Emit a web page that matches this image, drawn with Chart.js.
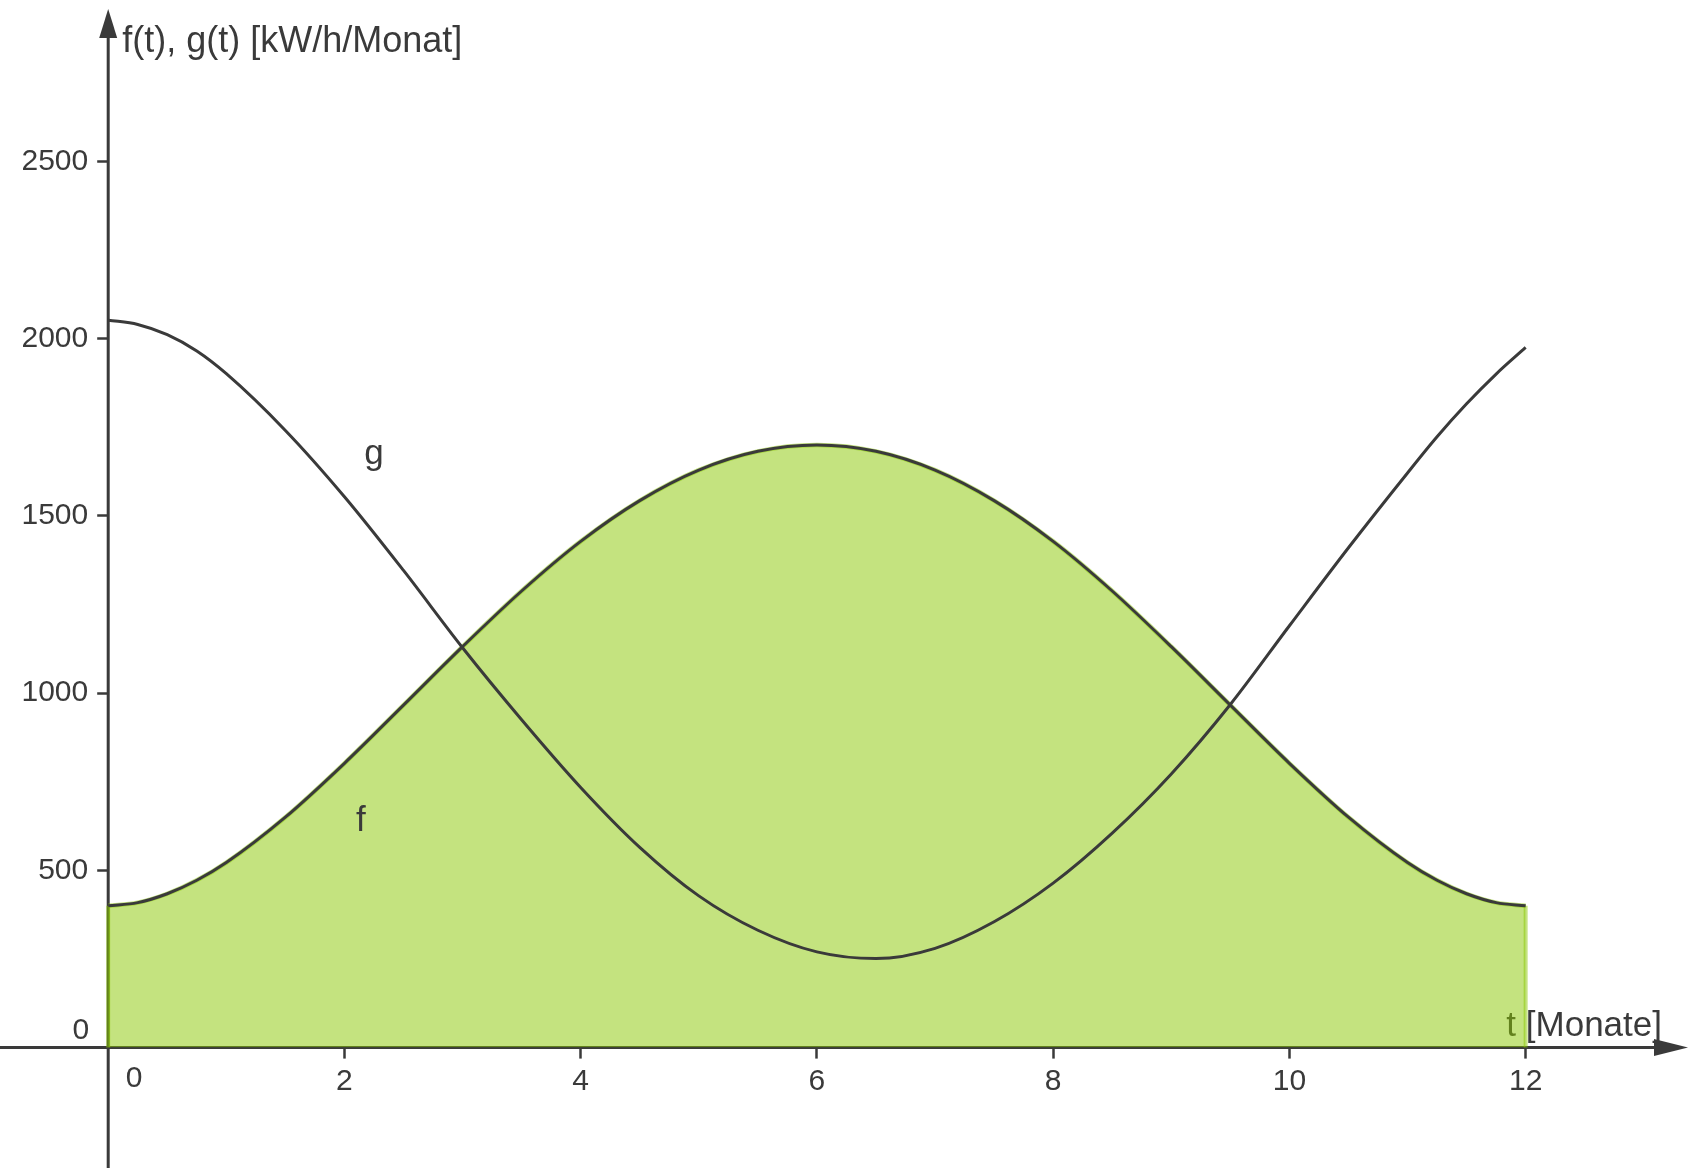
<!DOCTYPE html>
<html>
<head>
<meta charset="utf-8">
<title>f(t), g(t)</title>
<script src="https://cdn.jsdelivr.net/npm/chart.js@4.4.1/dist/chart.umd.min.js"></script>
<style>
    html, body { margin: 0; padding: 0; background: #fff; }
    #wrap { width: 1691px; height: 1168px; position: relative; }
</style>
</head>
<body>
<div id="wrap"><canvas id="chart"></canvas></div>
<script>
// values (half months, a few quarter months near the ends)
const months = [0, 0.25, 0.5, 0.75, 1, 1.5, 2, 2.5, 3, 3.5, 4, 4.5, 5, 5.5, 6, 6.5, 7, 7.5, 8, 8.5, 9, 9.5, 10, 10.5, 11, 11.25, 11.5, 11.75, 12];
const fValues = [400, 409, 434, 472, 522, 650, 802, 966, 1131, 1288, 1428, 1543, 1629, 1682, 1700, 1682, 1629, 1543, 1428, 1288, 1131, 966, 802, 650, 522, 472, 434, 409, 400];
const gValues = [2052, 2040, 2011, 1965, 1901, 1741, 1554, 1346, 1128, 925, 734, 565, 428, 331, 270, 251, 280, 355, 464, 605, 772, 968, 1190, 1410, 1621, 1723, 1816, 1900, 1975];
const xTickValues = [0, 2, 4, 6, 8, 10, 12];
const yTickValues = [0, 500, 1000, 1500, 2000, 2500];
const yTitle = 'f(t), g(t) [kW/h/Monat]';
const xTitle = 't [Monate]';

// where the curve names sit (in chart units)
const curveLabels = [
    { text: 'g', t: 2.25, v: 1645 },
    { text: 'f', t: 2.14, v: 610 },
];

const INK = '#3a3a3a';
const GREEN = 'rgba(137, 199, 0, 0.5)';
const FONT = '"Liberation Sans", Arial, Helvetica, sans-serif';

// origin on the page and pixels per unit, so the axes land where they are in the picture
const ORIGIN = { x: 108.2, y: 1047.6 };
const PX_PER_MONTH = 118.12;
const PX_PER_UNIT = 0.3545;

const toPoints = (ys) => months.map((t, i) => ({ x: t, y: ys[i] }));
const last = months.length - 1;

const axesPlugin = {
    id: 'axesPlugin',
    beforeDatasetsDraw(chart) {
        const { ctx } = chart;
        const x0 = chart.scales.x.getPixelForValue(0);
        const y0 = chart.scales.y.getPixelForValue(0);
        const w = chart.width, h = chart.height;

        ctx.save();
        ctx.strokeStyle = INK;
        ctx.fillStyle = INK;
        ctx.lineWidth = 3;

        // axis lines
        ctx.beginPath();
        ctx.moveTo(x0, 30);
        ctx.lineTo(x0, h);
        ctx.moveTo(0, y0);
        ctx.lineTo(w - 30, y0);
        ctx.stroke();

        // arrow heads
        ctx.beginPath();
        ctx.moveTo(x0, 9);
        ctx.lineTo(x0 - 9, 38);
        ctx.lineTo(x0 + 9, 38);
        ctx.closePath();
        ctx.fill();
        ctx.beginPath();
        ctx.moveTo(w - 3, y0);
        ctx.lineTo(w - 37, y0 - 8.5);
        ctx.lineTo(w - 37, y0 + 8.5);
        ctx.closePath();
        ctx.fill();

        // axis titles (under the translucent fill, like the original)
        ctx.font = `36px ${FONT}`;
        ctx.textBaseline = 'alphabetic';
        ctx.textAlign = 'left';
        ctx.fillText(yTitle, x0 + 14, 52);
        ctx.font = `35px ${FONT}`;
        ctx.textAlign = 'right';
        ctx.fillText(xTitle, w - 29, y0 - 12);
        ctx.restore();
    },
    afterDatasetsDraw(chart) {
        const { ctx } = chart;
        const xs = chart.scales.x, ys = chart.scales.y;
        const x0 = xs.getPixelForValue(0);
        const y0 = ys.getPixelForValue(0);

        ctx.save();
        ctx.fillStyle = INK;
        ctx.font = `35px ${FONT}`;
        ctx.textAlign = 'center';
        ctx.textBaseline = 'alphabetic';
        curveLabels.forEach(l => {
            ctx.fillText(l.text, xs.getPixelForValue(l.t), ys.getPixelForValue(l.v));
        });

        // the two zeros sit beside the origin
        ctx.font = `30px ${FONT}`;
        ctx.textBaseline = 'middle';
        ctx.textAlign = 'center';
        ctx.fillText(String(xTickValues[0]), x0 + 26, y0 + 31);
        ctx.textAlign = 'right';
        ctx.fillText(String(yTickValues[0]), x0 - 19, y0 - 17);
        ctx.restore();
    }
};

const options = {
    responsive: true,
    maintainAspectRatio: false,
    animation: false,
    layout: { padding: 0 },
    plugins: {
        legend: { display: false },
        tooltip: { enabled: false },
    },
    elements: {
        point: { radius: 0, hoverRadius: 0 },
    },
    scales: {
        x: {
            type: 'linear',
            position: 'bottom',
            border: { display: false },
            grid: { drawOnChartArea: false, drawTicks: true, tickLength: 11, tickColor: INK, tickWidth: 2.5 },
            ticks: {
                color: INK,
                font: { family: FONT, size: 30 },
                padding: 5,
                maxRotation: 0,
                autoSkip: false,
                callback: v => String(v),
            },
            afterBuildTicks: s => { s.ticks = xTickValues.filter(v => v !== 0).map(v => ({ value: v })); },
            // the axis box reaches from the x axis down to the page bottom
            afterFit: s => { s.height = s.chart.height - ORIGIN.y; },
        },
        y: {
            type: 'linear',
            position: 'left',
            border: { display: false },
            grid: { drawOnChartArea: false, drawTicks: true, tickLength: 11, tickColor: INK, tickWidth: 2.5 },
            ticks: {
                color: INK,
                font: { family: FONT, size: 30 },
                padding: 9,
                callback: v => String(v),
            },
            afterBuildTicks: s => { s.ticks = yTickValues.filter(v => v !== 0).map(v => ({ value: v })); },
            afterFit: s => { s.width = ORIGIN.x; },
        },
    },
};

function fitRanges(area) {
    options.scales.x.min = (area.left - ORIGIN.x) / PX_PER_MONTH;
    options.scales.x.max = (area.right - ORIGIN.x) / PX_PER_MONTH;
    options.scales.y.max = (ORIGIN.y - area.top) / PX_PER_UNIT;
    options.scales.y.min = (ORIGIN.y - area.bottom) / PX_PER_UNIT;
}

fitRanges({ left: ORIGIN.x, right: 1691, top: 0, bottom: ORIGIN.y });

const chart = new Chart(document.getElementById('chart'), {
    type: 'line',
    data: {
        datasets: [
            {
                // curves on top
                label: 'g',
                data: toPoints(gValues),
                borderColor: INK,
                borderWidth: 3,
                cubicInterpolationMode: 'monotone',
                fill: false,
                clip: false,
                order: 0,
            },
            {
                label: 'f',
                data: toPoints(fValues),
                borderColor: INK,
                borderWidth: 3,
                cubicInterpolationMode: 'monotone',
                fill: false,
                clip: false,
                order: 1,
            },
            {
                // area under f
                label: 'Fläche',
                data: toPoints(fValues),
                borderColor: GREEN,
                borderWidth: 4.5,
                backgroundColor: GREEN,
                cubicInterpolationMode: 'monotone',
                fill: 'origin',
                clip: false,
                order: 2,
            },
            {
                label: 'Rand links',
                data: [{ x: months[0], y: 0 }, { x: months[0], y: fValues[0] }],
                borderColor: GREEN,
                borderWidth: 4,
                tension: 0,
                clip: false,
                order: 3,
            },
            {
                label: 'Rand rechts',
                data: [{ x: months[last], y: 0 }, { x: months[last], y: fValues[last] }],
                borderColor: GREEN,
                borderWidth: 4,
                tension: 0,
                clip: false,
                order: 3,
            },
        ]
    },
    options: options,
    plugins: [axesPlugin],
});

// the scales keep a little room for their labels, so fit the ranges to the real chart area
for (let i = 0; i < 2; i++) {
    fitRanges(chart.chartArea);
    chart.update();
}
</script>
</body>
</html>
